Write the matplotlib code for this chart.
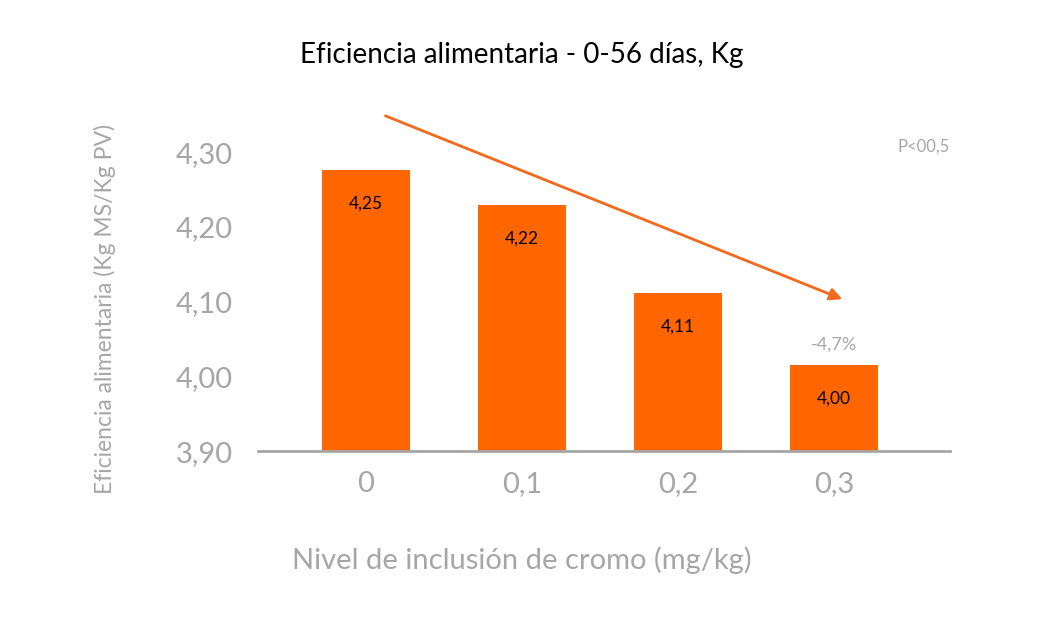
import matplotlib
matplotlib.use("Agg")
import matplotlib.pyplot as plt

categories = ["0", "0,1", "0,2", "0,3"]
values = [4.276, 4.230, 4.111, 4.015]
value_labels = ["4,25", "4,22", "4,11", "4,00"]
yticks = [3.90, 4.00, 4.10, 4.20, 4.30]
ytick_labels = ["3,90", "4,00", "4,10", "4,20", "4,30"]

plt.rcParams["font.family"] = "Lato"
fig = plt.figure(figsize=(10.44, 6.24), dpi=100)
ax = fig.add_axes([0.247, 0.277, 0.663, 0.539])
x = range(len(categories))
ax.bar(x, [v - 3.90 for v in values], bottom=3.90, width=0.564, color="#FF6600")
for i, (v, l) in enumerate(zip(values, value_labels)):
    ax.text(i, v - 0.045, l, ha="center", va="center", fontsize=12.5, color="black")
ax.set_xlim(-0.692, 3.744)
ax.set_ylim(3.90, 4.35)
ax.set_xticks(list(x))
ax.set_xticklabels(categories, fontsize=21, color="#A6A6A6")
ax.set_yticks(yticks)
ax.set_yticklabels(ytick_labels, fontsize=21, color="#A6A6A6")
ax.tick_params(axis="y", length=0, pad=18)
ax.tick_params(axis="x", length=0, pad=14)
for s in ["top", "right", "left"]:
    ax.spines[s].set_visible(False)
ax.spines["bottom"].set_color("#A6A6A6")
ax.spines["bottom"].set_linewidth(2)
ax.annotate("", xy=(3.07, 4.102), xytext=(0.109, 4.35),
            arrowprops=dict(arrowstyle="-|>", color="#F26A1B", lw=2, mutation_scale=18),
            annotation_clip=False)
ax.text(3, 4.043, "-4,7%", ha="center", va="center", fontsize=13, color="#A6A6A6")
ax.text(3.744, 4.307, "P<00,5", ha="right", va="center", fontsize=12, color="#A6A6A6")
fig.text(0.5, 0.912, "Eficiencia alimentaria - 0-56 días, Kg", ha="center", va="center", fontsize=20, color="black")
fig.text(0.5, 0.103, "Nivel de inclusión de cromo (mg/kg)", ha="center", va="center", fontsize=21, color="#A6A6A6")
fig.text(0.101, 0.505, "Eficiencia alimentaria (Kg MS/Kg PV)", rotation=90, ha="center", va="center",
         fontsize=16.5, color="#A6A6A6")
fig.savefig("out.png", dpi=100)
